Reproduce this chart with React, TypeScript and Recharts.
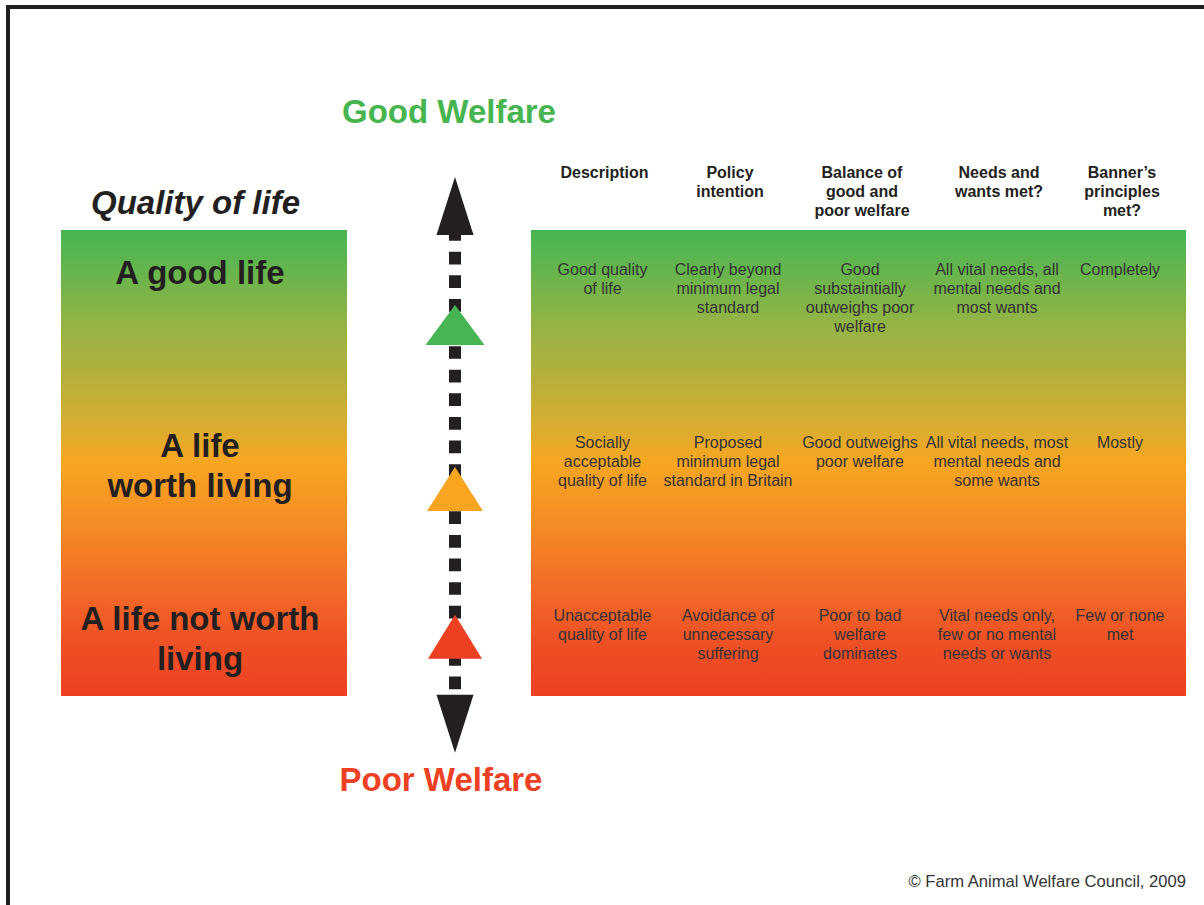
import React from 'react';
import {
  ComposedChart,
  XAxis,
  YAxis,
  Scatter,
  Line,
  ReferenceArea,
  ReferenceLine,
} from 'recharts';

// ---------------- DATA ----------------
const levelLines: string[][] = [
  ['A good life'],
  ['A life', 'worth living'],
  ['A life not worth', 'living'],
];
// welfare score (0 = bottom of scale, 100 = top) of each level's row
const levelScores: number[] = [90.3, 53.2, 16.1];
// indicator triangles on the welfare arrow
const indicatorScores: number[] = [79.6, 44.4, 12.7];
// extent of the welfare arrow (tips)
const arrowTipScores: number[] = [111.4, -12.2];
const arrowShaftScores: number[] = [100.4, 1.45];

const columnHeaders: string[][] = [
  ['Description'],
  ['Policy', 'intention'],
  ['Balance of', 'good and', 'poor welfare'],
  ['Needs and', 'wants met?'],
  ['Banner\u2019s', 'principles', 'met?'],
];

const cellTexts: string[][][] = [
  [
    ['Good quality', 'of life'],
    ['Clearly beyond', 'minimum legal', 'standard'],
    ['Good', 'substaintially', 'outweighs poor', 'welfare'],
    ['All vital needs, all', 'mental needs and', 'most wants'],
    ['Completely'],
  ],
  [
    ['Socially', 'acceptable', 'quality of life'],
    ['Proposed', 'minimum legal', 'standard in Britain'],
    ['Good outweighs', 'poor welfare'],
    ['All vital needs, most', 'mental needs and', 'some wants'],
    ['Mostly'],
  ],
  [
    ['Unacceptable', 'quality of life'],
    ['Avoidance of', 'unnecessary', 'suffering'],
    ['Poor to bad', 'welfare', 'dominates'],
    ['Vital needs only,', 'few or no mental', 'needs or wants'],
    ['Few or none', 'met'],
  ],
];

const titleGood = 'Good Welfare';
const titlePoor = 'Poor Welfare';
const leftTitle = 'Quality of life';
const copyright = '\u00A9 Farm Animal Welfare Council, 2009';

// ---------------- LAYOUT / STYLE ----------------
const W = 1204;
const H = 905;
const BOX_BOTTOM_PX = 696;
const PX_PER_SCORE = 4.66;
const atPx = (py: number) => (BOX_BOTTOM_PX - py) / PX_PER_SCORE;
const SCORE_MIN = atPx(H);
const SCORE_MAX = atPx(0);

const FONT = "'Liberation Sans', Arial, Helvetica, sans-serif";
const DARK = '#231f20';
const ARROW_X = 455;
const LEFT_BOX = [61, 347];
const RIGHT_BOX = [531, 1186];
const LEFT_LABEL_X = 200;
const CELL_X = [602.5, 728, 860, 997, 1120];
const HEADER_DX = 2;
const LEFT_LABEL_DY = 9;

const indicatorColors = ['#47b553', '#f9a51f', '#ee4123'];
const indicatorSizes = [
  [59, 40],
  [56, 44],
  [54, 44],
];

type TextKind = 'title' | 'big' | 'bigItalic' | 'header' | 'cell' | 'note';
const TEXT_STYLES: Record<TextKind, any> = {
  title: { fontSize: 33, fontWeight: 700, lineHeight: 40, anchor: 'middle' },
  big: { fontSize: 33, fontWeight: 700, lineHeight: 40, anchor: 'middle', fill: DARK },
  bigItalic: { fontSize: 33, fontWeight: 700, fontStyle: 'italic', lineHeight: 40, anchor: 'middle', fill: DARK },
  header: { fontSize: 16, fontWeight: 700, lineHeight: 19, anchor: 'middle', fill: DARK },
  cell: { fontSize: 16, fontWeight: 400, lineHeight: 19, anchor: 'middle', fill: '#333333' },
  note: { fontSize: 16.6, fontWeight: 400, lineHeight: 19, anchor: 'end', fill: '#333333' },
};

// ---------------- TABLES BUILT FROM DATA ----------------
const textItems: any[] = [
  { x: 449, y: atPx(122.5), lines: [titleGood], kind: 'title', color: '#46b54f' },
  { x: 441, y: atPx(790.5), lines: [titlePoor], kind: 'title', color: '#ee4123' },
  { x: 195.5, y: atPx(213.5), lines: [leftTitle], kind: 'bigItalic' },
  { x: RIGHT_BOX[1], y: atPx(886.5), lines: [copyright], kind: 'note' },
  ...columnHeaders.map((lines, i) => ({
    x: CELL_X[i] + HEADER_DX,
    y: atPx(178.3),
    lines,
    kind: 'header',
  })),
  ...levelLines.map((lines, r) => ({
    x: LEFT_LABEL_X,
    y: levelScores[r] - LEFT_LABEL_DY / PX_PER_SCORE,
    lines,
    kind: 'big',
  })),
  ...cellTexts.flatMap((row, r) =>
    row.map((lines, c) => ({ x: CELL_X[c], y: levelScores[r], lines, kind: 'cell' }))
  ),
];

const indicatorData = indicatorScores.map((y, i) => ({ x: ARROW_X, y, idx: i }));
const arrowHeadData = arrowTipScores.map((y, i) => ({ x: ARROW_X, y, dir: i === 0 ? 'up' : 'down' }));
const shaftData = arrowShaftScores.map((y) => ({ x: ARROW_X, y }));

// ---------------- SHAPES ----------------
const TextShape = (props: any) => {
  const { cx, cy, payload } = props;
  const st = TEXT_STYLES[payload.kind as TextKind];
  return (
    <text
      x={cx}
      y={cy}
      textAnchor={st.anchor}
      fontFamily={FONT}
      fontSize={st.fontSize}
      fontWeight={st.fontWeight}
      fontStyle={st.fontStyle || 'normal'}
      fill={payload.color || st.fill}
    >
      {payload.lines.map((l: string, i: number) => (
        <tspan key={i} x={cx} y={cy + i * st.lineHeight}>
          {l}
        </tspan>
      ))}
    </text>
  );
};

const TriangleShape = (props: any) => {
  const { cx, cy, payload } = props;
  const [w, h] = indicatorSizes[payload.idx];
  const pts = `${cx},${cy - h / 2} ${cx + w / 2},${cy + h / 2} ${cx - w / 2},${cy + h / 2}`;
  return <polygon points={pts} fill={indicatorColors[payload.idx]} />;
};

const HEAD_W = 37;
const HEAD_H = 58;
const ArrowHeadShape = (props: any) => {
  const { cx, cy, payload } = props;
  const s = payload.dir === 'up' ? 1 : -1;
  const pts = `${cx},${cy} ${cx + HEAD_W / 2},${cy + s * HEAD_H} ${cx - HEAD_W / 2},${cy + s * HEAD_H}`;
  return <polygon points={pts} fill={DARK} />;
};

export default function App() {
  return (
    <div style={{ position: 'absolute', left: 0, top: 0, width: W, height: H, overflow: 'hidden', background: '#fff' }}>
      <ComposedChart width={W} height={H} margin={{ top: 0, right: 0, bottom: 0, left: 0 }}>
        <defs>
          <linearGradient id="welfareGradient" x1="0" y1="0" x2="0" y2="1">
            <stop offset="0" stopColor="#46b653" />
            <stop offset="0.06" stopColor="#5bb54f" />
            <stop offset="0.2" stopColor="#93b445" />
            <stop offset="0.3" stopColor="#b0b03c" />
            <stop offset="0.42" stopColor="#d8ad30" />
            <stop offset="0.5" stopColor="#f8a620" />
            <stop offset="0.63" stopColor="#f48c25" />
            <stop offset="0.76" stopColor="#f26d27" />
            <stop offset="0.88" stopColor="#ef5125" />
            <stop offset="1" stopColor="#ee4023" />
          </linearGradient>
        </defs>
        <XAxis type="number" dataKey="x" domain={[0, W]} allowDataOverflow hide />
        <YAxis type="number" dataKey="y" domain={[SCORE_MIN, SCORE_MAX]} allowDataOverflow hide />

        <ReferenceLine
          segment={[
            { x: 6, y: atPx(7) },
            { x: W, y: atPx(7) },
          ]}
          stroke={DARK}
          strokeWidth={4}
        />
        <ReferenceLine
          segment={[
            { x: 8, y: atPx(5) },
            { x: 8, y: SCORE_MIN },
          ]}
          stroke={DARK}
          strokeWidth={4}
        />

        <ReferenceArea
          x1={LEFT_BOX[0]}
          x2={LEFT_BOX[1]}
          y1={0}
          y2={100}
          fill="url(#welfareGradient)"
          fillOpacity={1}
          stroke="none"
        />
        <ReferenceArea
          x1={RIGHT_BOX[0]}
          x2={RIGHT_BOX[1]}
          y1={0}
          y2={100}
          fill="url(#welfareGradient)"
          fillOpacity={1}
          stroke="none"
        />

        <Line
          data={shaftData}
          dataKey="y"
          stroke={DARK}
          strokeWidth={12}
          strokeDasharray="12.7 10.9"
          dot={false}
          activeDot={false}
          isAnimationActive={false}
        />
        <Scatter data={arrowHeadData} dataKey="y" shape={ArrowHeadShape} isAnimationActive={false} />
        <Scatter data={indicatorData} dataKey="y" shape={TriangleShape} isAnimationActive={false} />
        <Scatter data={textItems} dataKey="y" shape={TextShape} isAnimationActive={false} />
      </ComposedChart>
    </div>
  );
}
